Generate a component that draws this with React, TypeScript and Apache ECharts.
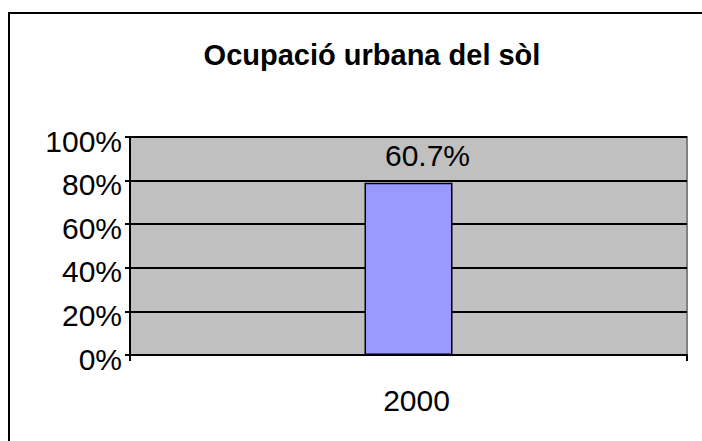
import React, { useEffect, useRef } from "react";
import * as echarts from "echarts";

const categories = ["2000"];
const values = [79];
const barLabels = ["60.7%"];
const yTicks = [0, 20, 40, 60, 80, 100];
const title = "Ocupació urbana del sòl";

export default function App() {
  const ref = useRef<HTMLDivElement>(null);
  useEffect(() => {
    if (!ref.current) return;
    const chart = echarts.init(ref.current, null, { renderer: "svg" });
    const font = "'Liberation Sans', Arial, sans-serif";
    chart.setOption({
      animation: false,
      backgroundColor: "#ffffff",
      textStyle: { fontFamily: font },
      title: {
        text: title,
        left: 367,
        textAlign: "center",
        top: 35,
        textStyle: { fontFamily: font, fontWeight: "bold", fontSize: 29, color: "#000" },
      },
      graphic: [
        {
          type: "rect",
          shape: { x: 9, y: 13, width: 800, height: 500 },
          style: { fill: "none", stroke: "#000", lineWidth: 2 },
          silent: true,
          z: 100,
        },
      ],
      grid: {
        left: 130,
        top: 137,
        width: 557,
        height: 218,
        show: true,
        backgroundColor: "#c0c0c0",
        borderColor: "#808080",
        borderWidth: 2,
      },
      xAxis: {
        type: "category",
        data: categories,
        boundaryGap: true,
        axisLine: { show: true, lineStyle: { color: "#000", width: 2 } },
        axisTick: { show: true, length: 6, lineStyle: { color: "#000", width: 2 } },
        axisLabel: {
          fontSize: 30,
          color: "#000",
          margin: 30,
          fontFamily: font,
          formatter: "{a|{value}}",
          rich: { a: { fontSize: 30, color: "#000", fontFamily: font, padding: [0, 0, 0, 16] } },
        },
        splitLine: { show: false },
      },
      yAxis: {
        type: "value",
        min: yTicks[0],
        max: yTicks[yTicks.length - 1],
        interval: 20,
        axisLine: { show: true, lineStyle: { color: "#000", width: 2 } },
        axisTick: { show: true, length: 5, inside: false, lineStyle: { color: "#000", width: 2 } },
        axisLabel: {
          fontSize: 30,
          color: "#000",
          margin: 8,
          formatter: "{a|{value}%}",
          fontFamily: font,
          rich: { a: { fontSize: 30, color: "#000", fontFamily: font, padding: [8, 0, 0, 0] } },
        },
        splitLine: { show: true, lineStyle: { color: "#000", width: 2 } },
      },
      series: [
        {
          type: "bar",
          data: values,
          barWidth: 88,
          itemStyle: { color: "#9999ff", borderColor: "#000", borderWidth: 1.5 },
          label: {
            show: true,
            position: "top",
            distance: 12,
            offset: [19, 0],
            fontSize: 30,
            color: "#000",
            fontFamily: font,
            formatter: (p: any) => barLabels[p.dataIndex],
          },
        },
      ],
    });
    return () => chart.dispose();
  }, []);
  return (
    <div
      ref={ref}
      style={{ position: "fixed", left: 0, top: 0, width: 702, height: 441 }}
    />
  );
}
